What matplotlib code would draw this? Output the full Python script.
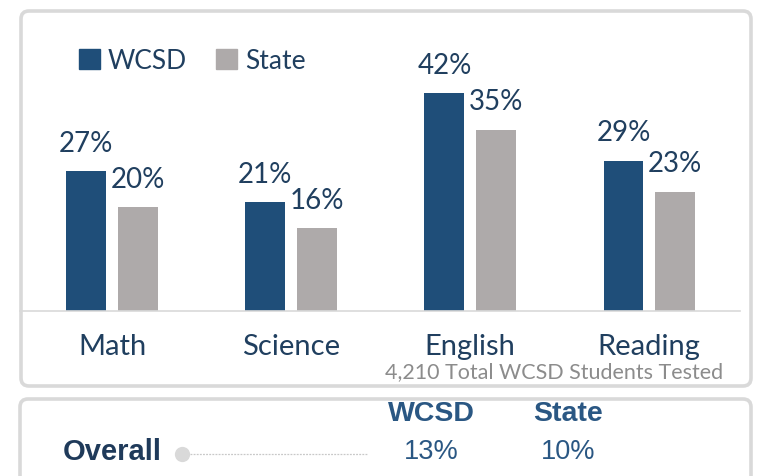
import matplotlib.pyplot as plt
from matplotlib.patches import FancyBboxPatch, Patch
import numpy as np

# ── data ─────────────────────────────────────────────
subjects = ["Math", "Science", "English", "Reading"]
wcsd_pct = [27, 21, 42, 29]
state_pct = [20, 16, 35, 23]
series_names = ["WCSD", "State"]
overall_label = "Overall"
overall_pct = [13, 10]
footnote = "4,210 Total WCSD Students Tested"

NAVY = "#1F4E79"
GRAY = "#AEAAAA"
TXT = "#203F5F"
BORDER = "#D9D9D9"

plt.rcParams["font.family"] = ["Lato", "DejaVu Sans"]

W, H = 760, 477
fig = plt.figure(figsize=(W / 100, H / 100), dpi=100)

# background layer in pixel coords (boxes + bottom panel)
bg = fig.add_axes([0, 0, 1, 1], zorder=0)
bg.set_xlim(0, W)
bg.set_ylim(H, 0)
bg.axis("off")

for (x0, y0, x1, y1) in [(21, 12, 751, 387), (20, 400, 751, 500)]:
    bg.add_patch(FancyBboxPatch((x0, y0), x1 - x0, y1 - y0,
                                boxstyle="round,pad=0,rounding_size=8",
                                fc="white", ec=BORDER, lw=2.6))

# bottom "Overall" panel
panel_font = ["Liberation Sans", "DejaVu Sans"]
col_x = [431, 568]
for name, x in zip(series_names, col_x):
    bg.text(x, 414, name, ha="center", va="center", fontsize=20.5,
            fontweight="bold", color="#2A5783", family=panel_font)
for val, x in zip(overall_pct, col_x):
    bg.text(x, 452, f"{val}%", ha="center", va="center", fontsize=19.5,
            color="#2A5783", family=panel_font)
bg.text(63, 452, overall_label, ha="left", va="center", fontsize=21,
        fontweight="bold", color="#1F3A5A", family=panel_font)
bg.plot([190, 368], [455, 455], color="#C8C8C8", lw=0.9, ls=(0, (1.5, 1)))
bg.plot([182], [455], "o", ms=11, color="#D9D9D9", mec="none")

# ── bar chart ─────────────────────────────────────────
ax = fig.add_axes([20 / W, 1 - 312 / H, 720 / W, 282 / H], zorder=1)
ax.patch.set_alpha(0)

x = np.arange(len(subjects))
off, bw = 0.143, 0.223
b1 = ax.bar(x - off, wcsd_pct, bw, color=NAVY)
b2 = ax.bar(x + off, state_pct, bw, color=GRAY)

for bars, vals in [(b1, wcsd_pct), (b2, state_pct)]:
    for r, v in zip(bars, vals):
        ax.annotate(f"{v}%", (r.get_x() + r.get_width() / 2, v),
                    xytext=(0, 11), textcoords="offset points",
                    ha="center", va="bottom", fontsize=20, color=TXT)

ax.set_xlim(-0.514, 3.508)
ax.set_ylim(0, 54.4)
ax.set_yticks([])
ax.set_xticks(x)
ax.set_xticklabels(subjects, fontsize=21, color=TXT)
ax.tick_params(axis="x", length=0, pad=16)
for s in ["top", "left", "right"]:
    ax.spines[s].set_visible(False)
ax.spines["bottom"].set_color(BORDER)
ax.spines["bottom"].set_linewidth(1.2)

ax.text(554, 372, footnote, transform=bg.transData, ha="center",
        va="center", fontsize=15.5, color="#8C8C8C")

handles = [Patch(color=NAVY), Patch(color=GRAY)]
ax.legend(handles, series_names, loc="upper left", ncol=2, frameon=False,
          bbox_to_anchor=(79 / W, 1 - 49 / H), bbox_transform=fig.transFigure,
          fontsize=19, labelcolor=TXT, handlelength=0.8, handleheight=0.8,
          handletextpad=0.3, columnspacing=1.1, borderpad=0, borderaxespad=0)

fig.savefig("out.png", dpi=100)
